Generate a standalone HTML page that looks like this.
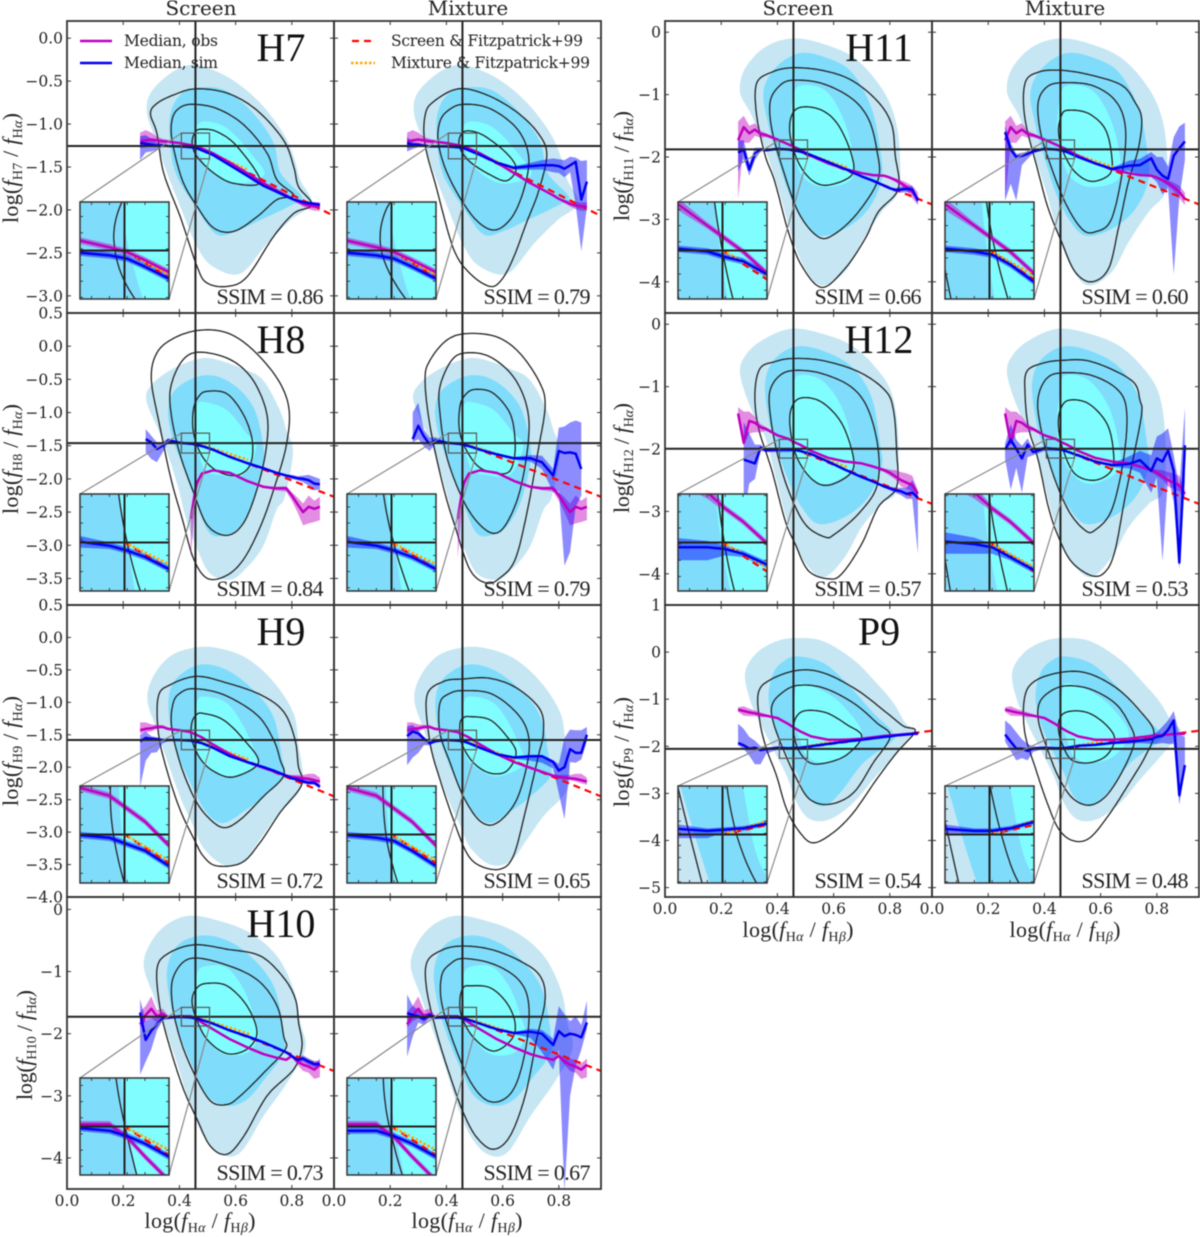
<!DOCTYPE html>
<html lang="en">
<head>
<meta charset="utf-8">
<title>Balmer decrement panels</title>
<style>
html,body{margin:0;padding:0;background:#fff;width:1200px;height:1237px;overflow:hidden;}
svg{display:block;filter:blur(0.45px);overflow:hidden;}
text{fill:#222;}
.tick{font-family:"DejaVu Serif","Liberation Serif",serif;font-size:15.5px;}
.ttl{font-family:"DejaVu Serif","Liberation Serif",serif;font-size:20px;}
.leg{font-family:"DejaVu Serif","Liberation Serif",serif;font-size:15.5px;}
.big{font-family:"Liberation Serif",serif;font-size:40px;fill:#111;}
.ssim{font-family:"Liberation Serif",serif;font-size:22px;}
.axl{font-family:"Liberation Serif",serif;font-size:22px;}
</style>
</head>
<body>
<svg id="chart" xmlns="http://www.w3.org/2000/svg" width="1200" height="1237" viewBox="0 0 1200 1237">
<g id="panels"></g>
<text class="ttl" x="201" y="15" text-anchor="middle">Screen</text>
<text class="ttl" x="468" y="15" text-anchor="middle">Mixture</text>
<text class="ttl" x="798" y="15" text-anchor="middle">Screen</text>
<text class="ttl" x="1065" y="15" text-anchor="middle">Mixture</text>
<g>
<line x1="80" x2="112" y1="41" y2="41" stroke="#bf00bf" stroke-width="2.5"/>
<text class="leg" x="124" y="46" textLength="94">Median, obs</text>
<line x1="80" x2="112" y1="63" y2="63" stroke="#0000f0" stroke-width="2.5"/>
<text class="leg" x="124" y="68" textLength="94">Median, sim</text>
</g>
<g>
<line x1="352" x2="372" y1="41" y2="41" stroke="#f00" stroke-width="2.2" stroke-dasharray="7 5"/>
<text class="leg" x="391" y="46" textLength="192">Screen &amp; Fitzpatrick+99</text>
<line x1="351" x2="375" y1="63" y2="63" stroke="#ffa500" stroke-width="2.6" stroke-dasharray="2.5 2"/>
<text class="leg" x="391" y="68" textLength="199">Mixture &amp; Fitzpatrick+99</text>
</g>
</svg>
<script>
// Shared x bins for the median curves
const medianX=[.26,.28,.30,.32,.34,.36,.40,.44,.46,.48,.52,.58,.64,.70,.74,.78,.80,.82,.84,.86,.88,.90];
const xTicks=[0,.2,.4,.6,.8];
const crossX=.457;

// H7
const h7Ticks=[0,-.5,-1,-1.5,-2,-2.5,-3];
const h7Cross=-1.255;
const h7Fill1=[.445,-.31,.534,-.39,.617,-.55,.70,-.80,.77,-1.11,.807,-1.38,.83,-1.65,.87,-1.92,.795,-2.12,.712,-2.39,.617,-2.74,.52,-2.66,.463,-2.43,.403,-1.96,.356,-1.57,.32,-1.22,.285,-.88,.297,-.64,.368,-.41];
const h7Fill2=[.486,-.57,.57,-.62,.664,-.88,.735,-1.22,.76,-1.57,.836,-1.85,.795,-1.95,.68,-2.13,.6,-2.25,.53,-2.28,.457,-1.96,.391,-1.61,.368,-1.26,.368,-.88,.41,-.64];
const h7Fill3=[.486,-.97,.57,-1.05,.664,-1.38,.70,-1.6,.593,-1.69,.498,-1.5,.463,-1.26,.457,-1.07];
const h7ScrC1=[.457,-.59,.57,-.64,.676,-.84,.771,-1.19,.807,-1.5,.824,-1.73,.872,-1.94,.807,-2.04,.735,-2.31,.64,-2.78,.57,-2.89,.498,-2.85,.463,-2.66,.403,-2.08,.344,-1.57,.32,-1.11,.297,-.88,.32,-.76,.38,-.66];
const h7ScrC2=[.445,-.77,.534,-.82,.629,-1.01,.712,-1.34,.747,-1.65,.807,-1.83,.747,-1.88,.676,-2.08,.593,-2.25,.522,-2.21,.463,-1.96,.41,-1.65,.374,-1.19,.374,-.95,.397,-.82];
const h7ScrC3=[.48,-1.06,.534,-1.09,.605,-1.26,.688,-1.67,.593,-1.69,.522,-1.57,.463,-1.38,.445,-1.22,.457,-1.09];
const h7MixC1=[.442,-.59,.543,-.66,.65,-.86,.727,-1.11,.757,-1.36,.727,-1.79,.686,-2.14,.638,-2.56,.597,-2.81,.555,-2.89,.484,-2.74,.425,-2.45,.365,-1.75,.324,-1.24,.324,-.9,.354,-.74];
const h7MixC2=[.46,-.77,.555,-.82,.65,-1.05,.692,-1.36,.68,-1.71,.638,-2.06,.579,-2.23,.52,-2.16,.46,-1.92,.40,-1.55,.371,-1.21,.377,-.97,.407,-.84];
const h7MixC3=[.472,-1.08,.531,-1.13,.614,-1.34,.648,-1.52,.614,-1.66,.555,-1.59,.484,-1.44,.448,-1.28,.448,-1.15];
const h7Obs=[-1.2,-1.19,-1.18,-1.19,-1.2,-1.205,-1.22,-1.245,-1.26,-1.285,-1.34,-1.45,-1.57,-1.69,-1.76,-1.83,-1.87,-1.9,-1.93,-1.95,-1.96,-1.96];
const h7ObsHi=[.1,.12,.08,.04,.03,.02,.01,.01,.01,.01,.01,.01,.01,.01,.01,.01,.01,.02,.03,.04,.05,.05];
const h7ObsLo=[.08,.08,.05,.04,.03,.02,.01,.01,.01,.01,.01,.01,.01,.01,.01,.01,.01,.02,.03,.04,.05,.05];
const h7ScrSim=[-1.22,-1.23,-1.24,-1.25,-1.25,-1.255,-1.26,-1.27,-1.28,-1.305,-1.36,-1.48,-1.6,-1.72,-1.78,-1.84,-1.87,-1.89,-1.91,-1.92,-1.93,-1.94];
const h7ScrHi=[.08,.1,.07,.03,.02,.01,.01,.01,.01,.01,.01,.01,.01,.01,.01,.01,.01,.01,.02,.02,.02,.02];
const h7ScrLo=[.2,.1,.08,.05,.02,.01,.01,.01,.01,.01,.01,.01,.01,.01,.01,.01,.01,.01,.02,.02,.02,.02];
const h7MixSim=[-1.22,-1.24,-1.24,-1.25,-1.26,-1.26,-1.26,-1.27,-1.28,-1.305,-1.36,-1.45,-1.51,-1.49,-1.48,-1.48,-1.49,-1.52,-1.48,-1.44,-1.88,-1.67];
const h7MixHi=[.07,.03,.02,.01,.01,.01,.01,.01,.01,.01,.01,.01,.02,.04,.06,.08,.08,.1,.1,.05,.45,.25];
const h7MixLo=[.1,.05,.03,.02,.01,.01,.01,.01,.01,.01,.01,.01,.02,.04,.05,.08,.08,.1,.08,.5,.6,.3];
const h7Red=[crossX,h7Cross,.95,-2.07];
const h7Orange=[crossX,h7Cross,.644,-1.535];

// H8
const h8Ticks=[.5,0,-.5,-1,-1.5,-2,-2.5,-3,-3.5];
const h8Cross=-1.46;
const h8Fill1=[.46,-.2,.52,-.19,.626,-.34,.697,-.51,.757,-.96,.78,-1.26,.804,-1.6,.775,-2.27,.745,-2.47,.697,-3.02,.632,-3.37,.579,-3.52,.508,-3.42,.46,-3.02,.425,-2.62,.395,-2.12,.365,-1.71,.33,-1.31,.282,-.81,.306,-.56,.377,-.34];
const h8Fill2=[.484,-.44,.579,-.54,.662,-.91,.697,-1.46,.697,-1.81,.662,-2.37,.614,-2.72,.567,-2.84,.508,-2.82,.46,-2.37,.413,-1.81,.377,-1.41,.36,-.96,.389,-.64];
const h8Fill3=[.484,-.84,.567,-.96,.638,-1.31,.674,-1.51,.626,-1.94,.543,-1.94,.49,-1.86,.46,-1.46,.448,-1.16,.46,-.91];
const h8ScrC1=[.47,.24,.57,.2,.66,-.05,.75,-.5,.79,-.95,.78,-1.5,.74,-2.1,.69,-2.7,.63,-3.2,.57,-3.45,.5,-3.5,.45,-3.2,.41,-2.6,.37,-2,.33,-1.2,.3,-.5,.32,-.1,.38,.12];
const h8ScrC2=[.47,-.09,.58,-.2,.66,-.5,.71,-1,.71,-1.5,.68,-2.1,.63,-2.65,.57,-2.85,.5,-2.7,.45,-2.2,.4,-1.6,.37,-1,.37,-.6,.41,-.22];
const h8ScrC3=[.5,-.68,.57,-.72,.63,-1.05,.66,-1.45,.65,-1.8,.6,-1.95,.53,-1.87,.48,-1.65,.45,-1.3,.45,-.95,.47,-.75];
const h8MixC1=[.472,.19,.579,.14,.662,-.11,.733,-.56,.751,-.91,.727,-1.56,.686,-2.52,.644,-3.22,.591,-3.49,.543,-3.57,.484,-3.37,.431,-2.72,.389,-2.12,.342,-1.21,.324,-.51,.342,-.21,.401,.09];
const h8MixC2=[.472,-.1,.555,-.16,.638,-.46,.686,-.91,.692,-1.41,.662,-2.17,.614,-2.67,.567,-2.82,.508,-2.64,.454,-2.27,.401,-1.66,.377,-1.01,.377,-.61,.419,-.21];
const h8MixC3=[.508,-.65,.567,-.71,.626,-1.01,.644,-1.41,.638,-1.76,.609,-1.92,.531,-1.86,.484,-1.66,.448,-1.31,.448,-.91,.472,-.71];
const h8Obs=[null,null,null,null,null,null,null,-2.6,-2.08,-1.92,-1.87,-1.91,-2.03,-2.12,-2.14,-2.14,-2.25,-2.38,-2.5,-2.42,-2.45,-2.42];
const h8ObsHi=[0,0,0,0,0,0,0,.1,.05,.02,.01,.01,.01,.01,.02,.03,.05,.1,.13,.17,.12,.15];
const h8ObsLo=[0,0,0,0,0,0,0,.6,.1,.02,.01,.01,.01,.01,.03,.05,.08,.12,.2,.25,.2,.2];
const h8ScrSim=[null,-1.4,-1.45,-1.55,-1.5,-1.42,-1.455,-1.47,-1.485,-1.505,-1.56,-1.67,-1.76,-1.84,-1.9,-1.95,-1.97,-1.99,-2,-2.02,-2.07,-2.08];
const h8ScrHi=[0,.15,.1,.1,.05,.03,.02,.01,.01,.01,.01,.01,.01,.01,.01,.02,.03,.03,.05,.08,.1,.08];
const h8ScrLo=[0,.2,.25,.2,.1,.03,.02,.01,.01,.01,.01,.01,.01,.01,.01,.02,.03,.03,.05,.08,.1,.08];
const h8MixSim=[null,-1.4,-1.2,-1.36,-1.48,-1.42,-1.455,-1.47,-1.485,-1.505,-1.56,-1.63,-1.69,-1.69,-1.75,-1.95,-1.58,-1.61,-1.6,-1.62,-1.85,null];
const h8MixHi=[0,.4,.35,.1,.1,.05,.02,.01,.01,.01,.01,.01,.02,.05,.1,.1,.35,.4,.45,.5,.7,0];
const h8MixLo=[0,.05,.2,.15,.1,.05,.02,.01,.01,.01,.01,.01,.02,.05,.1,.25,.6,1.7,1.5,.8,.4,0];
const h8Red=[crossX,h8Cross,.95,-2.27];
const h8Orange=[crossX,h8Cross,.644,-1.71];

// H9
const h9Ticks=[.5,0,-.5,-1,-1.5,-2,-2.5,-3,-3.5,-4];
const h9Cross=-1.58;
const h9Fill1=[.45,-.16,.533,-.16,.639,-.32,.734,-.68,.805,-1.16,.823,-1.63,.835,-2.29,.746,-2.75,.687,-3.11,.628,-3.45,.556,-3.5,.485,-3.24,.45,-2.91,.402,-2.45,.355,-1.88,.319,-1.42,.286,-.96,.307,-.6,.367,-.29];
const h9Fill2=[.473,-.42,.568,-.5,.663,-.81,.734,-1.22,.764,-1.83,.77,-2.14,.699,-2.45,.639,-2.65,.556,-2.86,.497,-2.7,.45,-2.34,.402,-1.88,.372,-1.47,.361,-.96,.39,-.63];
const h9Fill3=[.485,-.91,.568,-1.01,.628,-1.37,.675,-1.83,.675,-1.98,.58,-2.14,.497,-1.98,.461,-1.73,.45,-1.32,.461,-1.01];
const h9ScrC1=[.461,-.6,.568,-.7,.687,-.88,.77,-1.14,.811,-1.57,.823,-1.98,.835,-2.27,.758,-2.7,.687,-3.16,.622,-3.47,.533,-3.52,.485,-3.37,.45,-3.09,.402,-2.65,.355,-2.04,.325,-1.47,.325,-.91,.367,-.73];
const h9ScrC2=[.45,-.79,.556,-.88,.675,-1.19,.734,-1.57,.758,-1.88,.77,-2.14,.699,-2.45,.616,-2.81,.556,-2.93,.497,-2.75,.45,-2.45,.402,-1.93,.372,-1.37,.378,-1.01,.402,-.86];
const h9ScrC3=[.485,-1.17,.556,-1.27,.628,-1.57,.681,-1.93,.592,-2.15,.521,-2.06,.473,-1.86,.444,-1.57,.444,-1.32,.461,-1.19];
const h9MixC1=[.46,-.64,.555,-.63,.65,-.78,.733,-1.11,.745,-1.47,.727,-1.83,.68,-2.7,.638,-3.37,.591,-3.57,.52,-3.52,.472,-3.32,.425,-2.81,.377,-2.19,.342,-1.63,.33,-.91,.389,-.68];
const h9MixC2=[.46,-.82,.555,-.86,.638,-1.11,.686,-1.42,.692,-1.83,.65,-2.5,.579,-2.86,.52,-2.83,.46,-2.45,.413,-1.93,.377,-1.47,.377,-1.01,.413,-.86];
const h9MixC3=[.484,-1.22,.555,-1.27,.614,-1.52,.648,-1.78,.614,-2.06,.555,-2.09,.496,-1.93,.454,-1.63,.448,-1.34,.46,-1.24];
const h9Obs=[-1.43,-1.41,-1.4,-1.38,-1.38,-1.41,-1.43,-1.46,-1.5,-1.54,-1.65,-1.8,-1.92,-2.01,-2.07,-2.13,-2.15,-2.16,-2.17,-2.18,-2.2,-2.22];
const h9ObsHi=[.12,.1,.06,.03,.03,.02,.01,.01,.01,.01,.01,.01,.01,.01,.01,.02,.03,.04,.05,.08,.1,.06];
const h9ObsLo=[.05,.05,.05,.03,.02,.02,.01,.01,.01,.01,.01,.01,.01,.01,.01,.02,.03,.03,.03,.04,.05,.05];
const h9ScrSim=[-1.6,-1.55,-1.56,-1.57,-1.58,-1.58,-1.58,-1.59,-1.61,-1.63,-1.7,-1.83,-1.92,-2,-2.06,-2.13,-2.17,-2.19,-2.22,-2.24,-2.24,-2.3];
const h9ScrHi=[.1,.1,.04,.03,.02,.01,.01,.01,.01,.01,.01,.01,.01,.01,.01,.01,.02,.02,.03,.03,.03,.03];
const h9ScrLo=[.7,.35,.22,.2,.05,.02,.01,.01,.01,.01,.01,.01,.01,.01,.01,.01,.02,.02,.03,.03,.03,.03];
const h9MixSim=[-1.52,-1.45,-1.48,-1.56,-1.63,-1.6,-1.58,-1.59,-1.6,-1.63,-1.7,-1.8,-1.85,-1.83,-1.83,-1.92,-2.05,-2,-1.72,-1.78,-1.78,-1.5];
const h9MixHi=[.15,.1,.05,.03,.02,.01,.01,.01,.01,.01,.01,.01,.02,.02,.02,.03,.1,.45,.3,.35,.35,.12];
const h9MixLo=[.45,.4,.3,.1,.03,.02,.01,.01,.01,.01,.01,.01,.02,.07,.1,.1,.35,.8,.2,.15,.1,.1];
const h9Red=[crossX,h9Cross,.95,-2.45];
const h9Orange=[crossX,h9Cross,.645,-1.88];

// H10
const h10Ticks=[0,-1,-2,-3,-4];
const h10Cross=-1.727;
const h10Fill1=[.439,-.1,.546,-.19,.652,-.38,.747,-.75,.807,-1.29,.83,-1.82,.848,-2.25,.783,-2.79,.7,-3.32,.617,-3.91,.546,-3.94,.486,-3.65,.439,-3.16,.391,-2.47,.35,-1.93,.308,-1.39,.273,-.91,.297,-.54,.356,-.24];
const h10Fill2=[.463,-.43,.546,-.46,.64,-.7,.735,-1.23,.771,-1.98,.771,-2.31,.712,-2.68,.64,-3.06,.569,-3.16,.498,-3,.451,-2.57,.403,-2.04,.368,-1.5,.356,-.97,.391,-.59];
const h10Fill3=[.498,-.91,.569,-.94,.629,-1.29,.664,-1.72,.682,-2.04,.64,-2.31,.558,-2.33,.498,-2.09,.463,-1.77,.451,-1.39,.463,-1.02];
const h10ScrC1=[.451,-.57,.569,-.64,.688,-.75,.771,-1.1,.813,-1.45,.824,-1.82,.836,-2.2,.807,-2.57,.712,-3,.629,-3.65,.569,-3.94,.51,-3.81,.463,-3.38,.415,-2.9,.368,-2.25,.332,-1.61,.32,-.97,.356,-.72];
const h10ScrC2=[.439,-.79,.558,-.88,.676,-1.13,.747,-1.55,.771,-2.04,.777,-2.25,.7,-2.63,.617,-3,.569,-3.14,.51,-3.08,.451,-2.63,.403,-2.09,.374,-1.5,.38,-1.07];
const h10ScrC3=[.498,-1.19,.569,-1.23,.64,-1.55,.676,-1.98,.64,-2.25,.569,-2.32,.498,-2.09,.457,-1.72,.445,-1.45,.463,-1.26];
const h10MixC1=[.448,-.59,.555,-.64,.662,-.83,.733,-1.07,.751,-1.45,.721,-2.09,.68,-3,.626,-3.65,.567,-3.86,.508,-3.67,.46,-3.27,.413,-2.68,.365,-1.98,.33,-1.29,.33,-.86,.377,-.67];
const h10MixC2=[.46,-.79,.567,-.88,.656,-1.13,.692,-1.5,.686,-2.14,.65,-2.79,.603,-3.06,.543,-3.07,.484,-2.76,.425,-2.14,.383,-1.5,.383,-1.07,.413,-.88];
const h10MixC3=[.484,-1.23,.555,-1.26,.614,-1.5,.644,-1.82,.632,-2.09,.567,-2.28,.496,-2.06,.454,-1.72,.448,-1.45,.46,-1.26];
const h10Obs=[-1.85,-1.7,-1.6,-1.72,-1.68,-1.74,-1.72,-1.72,-1.76,-1.82,-1.93,-2.09,-2.22,-2.33,-2.38,-2.42,-2.36,-2.45,-2.5,-2.53,-2.58,-2.5];
const h10ObsHi=[.2,.15,.2,.1,.08,.03,.01,.01,.01,.01,.01,.01,.01,.01,.01,.02,.02,.05,.1,.1,.1,.1];
const h10ObsLo=[.05,.1,.15,.1,.06,.03,.01,.01,.01,.01,.01,.01,.01,.01,.01,.02,.02,.05,.1,.1,.15,.2];
const h10ScrSim=[-1.66,-2.1,-1.95,-1.85,-1.76,-1.74,-1.73,-1.74,-1.757,-1.78,-1.84,-1.95,-2.04,-2.14,-2.22,-2.3,-2.36,-2.42,-2.4,-2.45,-2.49,-2.49];
const h10ScrHi=[.22,.3,.2,.1,.03,.01,.01,.01,.01,.01,.01,.01,.01,.01,.01,.01,.02,.03,.05,.05,.05,.05];
const h10ScrLo=[1,.35,.3,.1,.03,.01,.01,.01,.01,.01,.01,.01,.01,.01,.01,.01,.02,.03,.05,.05,.05,.05];
const h10MixSim=[-1.67,-1.7,-1.72,-1.76,-1.7,-1.74,-1.74,-1.74,-1.757,-1.78,-1.84,-1.93,-1.99,-1.97,-2,-2.18,-1.96,-2.04,-2,-2.02,-2.06,-1.82];
const h10MixHi=[.3,.15,.1,.08,.03,.01,.01,.01,.01,.01,.01,.01,.02,.05,.06,.1,.4,.35,.2,.3,.2,.35];
const h10MixLo=[.7,.35,.1,.1,.05,.01,.01,.01,.01,.01,.01,.01,.02,.1,.3,.4,.3,2.5,1,.5,.2,.1];
const h10Red=[crossX,h10Cross,.95,-2.6];
const h10Orange=[crossX,h10Cross,.652,-2.01];

// H11
const h11Ticks=[0,-1,-2,-3,-4];
const h11Cross=-1.877;
const h11Fill1=[.451,-.1,.558,-.18,.676,-.42,.771,-.9,.819,-1.39,.836,-1.97,.83,-2.56,.771,-2.88,.7,-3.36,.64,-3.84,.558,-4.06,.498,-3.79,.451,-3.26,.403,-2.51,.356,-1.87,.308,-1.33,.267,-.96,.285,-.58,.356,-.24];
const h11Fill2=[.474,-.34,.569,-.4,.664,-.64,.735,-1.22,.765,-1.87,.771,-2.35,.724,-2.83,.64,-3.15,.546,-3.26,.486,-2.99,.439,-2.56,.397,-1.97,.368,-1.49,.35,-.96,.391,-.58];
const h11Fill3=[.486,-.85,.569,-.93,.629,-1.33,.664,-1.87,.664,-2.35,.569,-2.48,.498,-2.35,.463,-2.03,.445,-1.55,.457,-1.01];
const h11ScrC1=[.451,-.57,.558,-.61,.664,-.77,.759,-1.12,.807,-1.49,.819,-1.97,.83,-2.51,.759,-2.88,.712,-3.31,.64,-3.79,.558,-4.09,.486,-3.74,.439,-3.2,.391,-2.4,.356,-1.97,.326,-1.33,.326,-.82,.38,-.64];
const h11ScrC2=[.451,-.77,.558,-.82,.664,-1.06,.724,-1.39,.753,-1.87,.759,-2.35,.688,-2.88,.605,-3.23,.546,-3.28,.474,-2.88,.415,-2.13,.38,-1.55,.374,-1.12,.403,-.88];
const h11ScrC3=[.486,-1.2,.558,-1.25,.617,-1.49,.664,-1.97,.664,-2.29,.581,-2.45,.522,-2.37,.474,-2.08,.445,-1.65,.451,-1.33];
const h11MixC1=[.461,-.61,.568,-.69,.675,-.85,.722,-1.12,.746,-1.39,.734,-1.87,.699,-2.4,.663,-3.15,.628,-3.79,.568,-4,.509,-3.84,.461,-3.36,.414,-2.83,.378,-2.24,.331,-1.39,.331,-.82,.378,-.64];
const h11MixC2=[.461,-.81,.568,-.85,.651,-1.09,.687,-1.49,.681,-2.13,.639,-2.99,.58,-3.2,.533,-3.15,.473,-2.72,.414,-2.03,.384,-1.55,.378,-1.12,.408,-.88];
const h11MixC3=[.485,-1.25,.556,-1.3,.616,-1.55,.639,-1.97,.633,-2.27,.568,-2.39,.509,-2.24,.467,-1.92,.45,-1.6,.461,-1.33];
const h11Obs=[-1.73,-1.52,-1.62,-1.56,-1.63,-1.65,-1.72,-1.8,-1.84,-1.88,-1.98,-2.1,-2.19,-2.26,-2.29,-2.3,-2.33,-2.37,-2.42,-2.48,-2.56,-2.67];
const h11ObsHi=[.3,.18,.12,.1,.05,.03,.02,.01,.01,.01,.01,.01,.01,.01,.01,.01,.02,.03,.05,.07,.1,.1];
const h11ObsLo=[.95,.25,.15,.1,.06,.03,.02,.01,.01,.01,.01,.01,.01,.01,.01,.01,.02,.03,.05,.07,.1,.1];
const h11ScrSim=[-1.93,-1.88,-2.2,-1.95,-1.88,-1.89,-1.87,-1.88,-1.897,-1.91,-1.97,-2.08,-2.19,-2.31,-2.38,-2.46,-2.5,-2.53,-2.52,-2.51,-2.52,-2.7];
const h11ScrHi=[.2,.15,.1,.1,.03,.01,.01,.01,.01,.01,.01,.01,.01,.01,.01,.01,.02,.03,.05,.05,.05,.05];
const h11ScrLo=[.3,.15,.1,.1,.03,.01,.01,.01,.01,.01,.01,.01,.01,.01,.01,.01,.02,.03,.05,.05,.05,.05];
const h11MixSim=[-1.6,-1.88,-2,-1.98,-1.95,-1.91,-1.87,-1.88,-1.89,-1.92,-2,-2.1,-2.19,-2.14,-2.13,-2.02,-2.2,-2.3,-2.35,-1.98,-1.86,-1.75];
const h11MixHi=[.1,.1,.05,.05,.03,.02,.01,.01,.01,.01,.01,.01,.02,.08,.1,.1,.2,.3,.2,.3,.35,.3];
const h11MixLo=[1.1,.55,.7,.15,.08,.03,.01,.01,.01,.01,.01,.01,.02,.08,.15,.3,.2,.3,.15,1.9,.8,.3];
const h11Red=[crossX,h11Cross,.95,-2.76];
const h11Orange=[crossX,h11Cross,.65,-2.17];

// H12
const h12Ticks=[0,-1,-2,-3,-4];
const h12Cross=-1.995;
const h12Fill1=[.451,-.07,.558,-.15,.664,-.34,.747,-.68,.807,-1.11,.83,-1.81,.824,-2.66,.771,-2.88,.7,-3.25,.64,-3.73,.569,-4.05,.51,-3.89,.463,-3.52,.427,-3.04,.391,-2.4,.356,-1.81,.308,-1.38,.267,-.79,.291,-.47,.356,-.23];
const h12Fill2=[.463,-.36,.558,-.42,.664,-.68,.735,-1.17,.765,-1.91,.771,-2.29,.724,-2.77,.64,-3.09,.546,-3.2,.486,-2.93,.439,-2.5,.391,-1.91,.368,-1.49,.356,-.95,.386,-.58];
const h12Fill3=[.474,-.82,.558,-.9,.629,-1.33,.664,-1.91,.664,-2.34,.569,-2.56,.498,-2.4,.457,-2.02,.445,-1.54,.457,-1.06];
const h12ScrC1=[.451,-.55,.558,-.58,.688,-.76,.783,-1.06,.813,-1.38,.824,-2.02,.824,-2.61,.759,-2.93,.7,-3.52,.629,-4,.581,-4.08,.51,-3.95,.463,-3.52,.427,-3.14,.38,-2.34,.332,-1.65,.32,-1.11,.338,-.71,.391,-.6];
const h12ScrC2=[.463,-.74,.558,-.79,.664,-1.01,.724,-1.38,.759,-2.02,.753,-2.61,.688,-3.04,.605,-3.36,.569,-3.41,.498,-3.2,.439,-2.66,.397,-2.02,.374,-1.43,.374,-1.06,.409,-.82];
const h12ScrC3=[.486,-1.18,.558,-1.25,.629,-1.59,.67,-2.13,.658,-2.4,.581,-2.58,.522,-2.48,.469,-2.13,.445,-1.65,.451,-1.33];
const h12MixC1=[.461,-.58,.568,-.6,.71,-.9,.74,-1.22,.746,-1.43,.722,-2.02,.687,-2.77,.651,-3.63,.616,-3.97,.568,-4.03,.497,-3.81,.45,-3.41,.414,-2.93,.378,-2.18,.343,-1.65,.331,-1.11,.337,-.76,.39,-.63];
const h12MixC2=[.461,-.78,.568,-.82,.663,-1.06,.693,-1.43,.681,-2.18,.639,-2.98,.58,-3.3,.544,-3.3,.485,-2.98,.426,-2.34,.384,-1.59,.378,-1.17,.408,-.87];
const h12MixC3=[.485,-1.22,.556,-1.27,.622,-1.59,.645,-2.02,.639,-2.34,.58,-2.5,.509,-2.4,.467,-2.02,.45,-1.65,.456,-1.38];
const h12Obs=[-1.43,-1.9,-1.55,-1.58,-1.65,-1.68,-1.78,-1.84,-1.89,-1.93,-2.03,-2.14,-2.2,-2.23,-2.28,-2.34,-2.38,-2.44,-2.5,-2.54,-2.58,-2.72];
const h12ObsHi=[.1,.5,.15,.1,.05,.03,.02,.02,.01,.01,.01,.01,.01,.01,.02,.03,.05,.1,.13,.15,.15,.05];
const h12ObsLo=[.05,.05,.2,.15,.08,.03,.02,.02,.01,.01,.01,.01,.01,.01,.02,.03,.05,.05,.1,.1,.1,.1];
const h12ScrSim=[null,-2.17,-2.2,-2.23,-1.98,-2.02,-2.01,-2.01,-2.015,-2.03,-2.08,-2.2,-2.33,-2.45,-2.52,-2.6,-2.63,-2.66,-2.68,-2.72,-2.7,-2.78];
const h12ScrHi=[0,.6,.45,.3,.05,.03,.03,.02,.01,.01,.01,.01,.01,.01,.01,.02,.03,.04,.06,.1,.2,.1];
const h12ScrLo=[0,.9,.35,.25,.05,.03,.04,.04,.02,.01,.01,.01,.01,.01,.01,.02,.03,.04,.06,.08,.1,.9];
const h12MixSim=[-2.01,-1.85,-2,-2.15,-1.93,-2.05,-1.99,-2,-2.01,-2.04,-2.1,-2.2,-2.26,-2.24,-2.18,-2.35,-2.15,-2.2,-2.02,-2.35,-3.82,-1.94];
const h12MixHi=[.1,.25,.15,.2,.1,.05,.03,.02,.01,.01,.01,.01,.03,.12,.15,.25,.35,.45,.35,.25,1.2,.6];
const h12MixLo=[.15,.8,.3,.55,.2,.05,.04,.03,.02,.01,.01,.01,.03,.07,.2,.35,.3,1.6,.4,.5,.1,.6];
const h12Red=[crossX,h12Cross,.95,-2.88];
const h12Orange=[crossX,h12Cross,.65,-2.29];

// P9
const p9Ticks=[1,0,-1,-2,-3,-4,-5];
const p9Cross=-2.055;
const p9Fill1=[.469,.3,.563,.23,.67,-.16,.753,-.66,.813,-1.08,.854,-1.5,.884,-1.68,.824,-2.14,.741,-2.7,.67,-3.2,.587,-3.55,.516,-3.55,.469,-3.2,.433,-2.63,.386,-2.07,.338,-1.5,.302,-1.01,.285,-.44,.326,-.02,.397,.23];
const p9Fill2=[.469,-.09,.563,-.23,.647,-.66,.741,-1.29,.813,-1.72,.801,-1.93,.706,-2.35,.623,-2.99,.563,-3.27,.504,-3.06,.469,-2.56,.421,-2,.386,-1.5,.368,-.94,.386,-.44,.421,-.2];
const p9Fill3=[.48,-.66,.563,-.83,.635,-1.15,.7,-1.72,.647,-2.21,.563,-2.35,.504,-2.21,.48,-1.86,.457,-1.36,.463,-.87];
const p9ScrC1=[.469,-.39,.563,-.44,.682,-.8,.789,-1.29,.848,-1.57,.89,-1.68,.824,-2.14,.753,-2.7,.67,-3.41,.599,-3.83,.528,-4.05,.48,-3.83,.433,-3.34,.397,-2.63,.362,-2.07,.338,-1.5,.332,-.87,.374,-.59];
const p9ScrC2=[.469,-.71,.563,-.76,.67,-1.08,.753,-1.5,.801,-1.79,.741,-2.35,.67,-2.99,.587,-3.23,.516,-3.13,.469,-2.7,.421,-2.07,.386,-1.5,.38,-1.15,.409,-.9];
const p9ScrC3=[.504,-1.24,.575,-1.29,.647,-1.54,.7,-1.79,.647,-2.18,.575,-2.35,.516,-2.35,.474,-2.07,.457,-1.65,.469,-1.36];
const p9MixC1=[.47,-.42,.56,-.46,.66,-.78,.74,-1.25,.79,-1.7,.76,-2.2,.7,-2.8,.63,-3.45,.56,-3.95,.5,-4,.45,-3.75,.41,-3.2,.37,-2.5,.33,-1.7,.33,-.95,.37,-.6];
const p9MixC2=[.47,-.72,.56,-.78,.65,-1.08,.7,-1.5,.72,-1.9,.68,-2.5,.62,-3.05,.56,-3.25,.5,-3.1,.45,-2.65,.41,-2.05,.38,-1.5,.38,-1.12,.41,-.88];
const p9MixC3=[.5,-1.25,.56,-1.3,.62,-1.55,.65,-1.85,.62,-2.2,.56,-2.35,.5,-2.3,.47,-2.05,.45,-1.65,.46,-1.35];
const p9Obs=[-1.22,-1.25,-1.28,-1.3,-1.33,-1.35,-1.4,-1.53,-1.61,-1.68,-1.79,-1.86,-1.86,-1.84,-1.81,-1.78,-1.77,-1.76,-1.75,-1.74,-1.73,-1.74];
const p9ObsHi=[.05,.1,.08,.06,.05,.03,.01,.01,.01,.01,.01,.01,.01,.01,.01,.01,.02,.02,.02,.02,.02,.02];
const p9ObsLo=[.05,.1,.08,.06,.05,.03,.01,.01,.01,.01,.01,.01,.01,.01,.01,.01,.02,.02,.02,.02,.02,.02];
const p9ScrSim=[-1.93,-1.98,-2.05,-2.03,-2.08,-2.06,-2.03,-2.04,-2.035,-2.03,-2,-1.95,-1.9,-1.86,-1.83,-1.8,-1.79,-1.77,-1.76,-1.75,-1.74,-1.72];
const p9ScrHi=[.41,.35,.25,.15,.08,.04,.02,.01,.01,.01,.01,.01,.01,.01,.01,.01,.01,.01,.01,.01,.01,.01];
const p9ScrLo=[.05,.08,.15,.35,.3,.1,.04,.03,.01,.01,.01,.01,.01,.01,.01,.01,.01,.01,.01,.01,.01,.01];
const p9MixSim=[-1.75,-1.9,-2.05,-2.05,-2.1,-2.05,-2.03,-2.04,-2.04,-2.03,-1.99,-1.97,-1.93,-1.9,-1.88,-1.85,-1.8,-1.78,-1.65,-1.45,-3.04,-2.4];
const p9MixHi=[.3,.35,.35,.2,.15,.05,.02,.01,.01,.01,.01,.01,.02,.05,.07,.1,.1,.2,.2,.2,1.3,.6];
const p9MixLo=[.15,.2,.25,.2,.2,.07,.02,.01,.01,.01,.01,.01,.02,.05,.05,.1,.15,.15,.3,.5,.2,.1];
const p9Red=[crossX,p9Cross,.95,-1.67];
const p9Orange=[crossX,p9Cross,.647,-1.84];

const NS='http://www.w3.org/2000/svg';
function mk(tag,attrs,parent){
  const e=document.createElementNS(NS,tag);
  for(const k in attrs)e.setAttribute(k,attrs[k]);
  if(parent)parent.appendChild(e);
  return e;
}
function pairs(flat){const o=[];for(let i=0;i<flat.length;i+=2)o.push([flat[i],flat[i+1]]);return o;}
// Sample the closed spline through a shape's data points into pixel coordinates
function sampleClosed(flat,sx,sy){
  const p=pairs(flat).map(a=>[sx(a[0]),sy(a[1])]),n=p.length,out=[];
  for(let i=0;i<n;i++){
    const a=p[(i-1+n)%n],b=p[i],c=p[(i+1)%n],e=p[(i+2)%n];
    const c1=[b[0]+(c[0]-a[0])/6,b[1]+(c[1]-a[1])/6],c2=[c[0]-(e[0]-b[0])/6,c[1]-(e[1]-b[1])/6];
    for(let k=0;k<14;k++){
      const t=k/14,u=1-t;
      out.push([u*u*u*b[0]+3*u*u*t*c1[0]+3*u*t*t*c2[0]+t*t*t*c[0],u*u*u*b[1]+3*u*u*t*c1[1]+3*u*t*t*c2[1]+t*t*t*c[1]]);
    }
  }
  return out;
}
// Polygon clipped to a rectangle, so geometry never extends past its axes
function clipPoly(pts,box){
  const x0=box.x-2,x1=box.x+box.w+2,y0=box.y-2,y1=box.y+box.h+2;
  const edges=[[0,x0,1],[0,x1,-1],[1,y0,1],[1,y1,-1]];
  let res=pts;
  edges.forEach(ed=>{
    const ax=ed[0],lim=ed[1],sg=ed[2],o=[];
    for(let i=0;i<res.length;i++){
      const a=res[i],b=res[(i+1)%res.length];
      const ina=(a[ax]-lim)*sg>=0,inb=(b[ax]-lim)*sg>=0;
      if(ina)o.push(a);
      if(ina!==inb){
        const t=(lim-a[ax])/(b[ax]-a[ax]);
        o.push([a[0]+t*(b[0]-a[0]),a[1]+t*(b[1]-a[1])]);
      }
    }
    res=o;
  });
  return res;
}
// Open polyline clipped to a rectangle: returns visible runs
function clipRuns(pts,box){
  const x0=box.x-2,x1=box.x+box.w+2,y0=box.y-2,y1=box.y+box.h+2;
  const runs=[];let cur=null;
  for(let i=0;i<pts.length-1;i++){
    const a=pts[i],b=pts[i+1],dx=b[0]-a[0],dy=b[1]-a[1];
    let t0=0,t1=1,ok=true;
    [[-dx,a[0]-x0],[dx,x1-a[0]],[-dy,a[1]-y0],[dy,y1-a[1]]].forEach(c=>{
      const pp=c[0],q=c[1];
      if(pp===0){if(q<0)ok=false;}
      else{const r=q/pp;if(pp<0){if(r>t1)ok=false;else if(r>t0)t0=r;}else{if(r<t0)ok=false;else if(r<t1)t1=r;}}
    });
    if(!ok){cur=null;continue;}
    const s=[a[0]+t0*dx,a[1]+t0*dy],e=[a[0]+t1*dx,a[1]+t1*dy];
    if(!cur||t0>0){cur=[s];runs.push(cur);}
    cur.push(e);
    if(t1<1)cur=null;
  }
  return runs;
}
function polyAttr(pts){return pts.map(p=>p[0].toFixed(1)+','+p[1].toFixed(1)).join(' ');}
function runsPath(runs){
  return runs.map(r=>'M'+r.map(p=>p[0].toFixed(1)+' '+p[1].toFixed(1)).join('L')).join('');
}
function linePixels(vals,sx,sy){
  const o=[];
  vals.forEach((v,i)=>{if(v!==null)o.push([sx(medianX[i]),sy(v)]);});
  return o;
}
function bandPixels(vals,hi,lo,sx,sy){
  const up=[],dn=[];
  vals.forEach((v,i)=>{
    if(v===null)return;
    up.push([sx(medianX[i]),sy(v+hi[i])]);
    dn.unshift([sx(medianX[i]),sy(v-lo[i])]);
  });
  return up.concat(dn);
}
function segPixels(seg,sx,sy){return [[sx(seg[0]),sy(seg[1])],[sx(seg[2]),sy(seg[3])]];}
let clipId=0;
function drawContent(parent,P,sx,sy,box){
  const id='clip'+(clipId++);
  const cp=mk('clipPath',{id:id},parent);
  mk('rect',{x:box.x,y:box.y,width:box.w,height:box.h},cp);
  const g=mk('g',{'clip-path':'url(#'+id+')'},parent);
  
  
  const f1=mk('polygon',{points:polyAttr(clipPoly(sampleClosed(P.fills[0],sx,sy),box)),fill:'#c6e6f3'},g);
  
  
  const f2=mk('polygon',{points:polyAttr(clipPoly(sampleClosed(P.fills[1],sx,sy),box)),fill:'#80dcfb'},g);
  
  
  const f3=mk('polygon',{points:polyAttr(clipPoly(sampleClosed(P.fills[2],sx,sy),box)),fill:'#80feff'},g);
  
  
  P.contours.forEach(c=>{
    const pts=sampleClosed(c,sx,sy);
    pts.push(pts[0]);
    const k=mk('path',{d:runsPath(clipRuns(pts,box)),fill:'none',stroke:'#222','stroke-width':1.3,'stroke-linejoin':'round'},g);
    
    
  });
  const b1=mk('polygon',{points:polyAttr(clipPoly(bandPixels(P.obs,P.obsHi,P.obsLo,sx,sy),box)),fill:'#bf00bf','fill-opacity':.45},g);
  
  
  const b2=mk('polygon',{points:polyAttr(clipPoly(bandPixels(P.sim,P.simHi,P.simLo,sx,sy),box)),fill:'#0000ff','fill-opacity':.45},g);
  
  
  const r=mk('path',{d:runsPath(clipRuns(segPixels(P.red,sx,sy),box)),fill:'none',stroke:'#f00','stroke-width':2.2,'stroke-dasharray':'7 5'},g);
  
  
  const o=mk('path',{d:runsPath(clipRuns(segPixels(P.orange,sx,sy),box)),fill:'none',stroke:'#ffa500','stroke-width':2.6,'stroke-dasharray':'2.5 2'},g);
  
  
  const l1=mk('path',{d:runsPath(clipRuns(linePixels(P.obs,sx,sy),box)),fill:'none',stroke:'#bf00bf','stroke-width':2.5,'stroke-linejoin':'round'},g);
  
  
  const l2=mk('path',{d:runsPath(clipRuns(linePixels(P.sim,sx,sy),box)),fill:'none',stroke:'#0000f0','stroke-width':2.5,'stroke-linejoin':'round'},g);
  
  
  const h=mk('line',{x1:box.x,x2:box.x+box.w,y1:sy(P.cross),y2:sy(P.cross),stroke:'#222','stroke-width':2},g);
  
  
  const v=mk('line',{x1:sx(crossX),x2:sx(crossX),y1:box.y,y2:box.y+box.h,stroke:'#222','stroke-width':2},g);
  
  
}
function fmt(v,dec){const s=Math.abs(v).toFixed(dec);return (v<0?'\u2212':'')+s;}
function labelMarkup(sub){
  return 'log(<tspan font-style="italic">f</tspan><tspan font-size="14" dy="4">'+sub+'</tspan><tspan dy="-4"> / </tspan><tspan font-style="italic">f</tspan><tspan font-size="14" dy="4">H<tspan font-style="italic">\u03B1</tspan></tspan><tspan dy="-4">)</tspan>';
}
function xLabelMarkup(){
  return 'log(<tspan font-style="italic">f</tspan><tspan font-size="14" dy="4">H<tspan font-style="italic">\u03B1</tspan></tspan><tspan dy="-4"> / </tspan><tspan font-style="italic">f</tspan><tspan font-size="14" dy="4">H<tspan font-style="italic">\u03B2</tspan></tspan><tspan dy="-4">)</tspan>';
}

const XMAX=.95,PW=267,PH=292;
const panels=[
 {name:'H7',sub:'H7',col:'screen',x:67,top:21,ymax:.2,ymin:-3.2,ticks:h7Ticks,dec:1,ylx:12,yly:168,ssim:'0.86',cross:h7Cross,fills:[h7Fill1,h7Fill2,h7Fill3],contours:[h7ScrC1,h7ScrC2,h7ScrC3],obs:h7Obs,obsHi:h7ObsHi,obsLo:h7ObsLo,sim:h7ScrSim,simHi:h7ScrHi,simLo:h7ScrLo,red:h7Red,orange:h7Orange,win:.15},
 {name:'H7',sub:'',col:'mixture',x:334,top:21,ymax:.2,ymin:-3.2,ticks:h7Ticks,dec:1,ssim:'0.79',cross:h7Cross,fills:[h7Fill1,h7Fill2,h7Fill3],contours:[h7MixC1,h7MixC2,h7MixC3],obs:h7Obs,obsHi:h7ObsHi,obsLo:h7ObsLo,sim:h7MixSim,simHi:h7MixHi,simLo:h7MixLo,red:h7Red,orange:h7Orange,win:.15},
 {name:'H8',sub:'H8',col:'screen',x:67,top:313,ymax:.5,ymin:-3.9,ticks:h8Ticks,dec:1,ylx:12,yly:459,ssim:'0.84',cross:h8Cross,fills:[h8Fill1,h8Fill2,h8Fill3],contours:[h8ScrC1,h8ScrC2,h8ScrC3],obs:h8Obs,obsHi:h8ObsHi,obsLo:h8ObsLo,sim:h8ScrSim,simHi:h8ScrHi,simLo:h8ScrLo,red:h8Red,orange:h8Orange,win:.15},
 {name:'H8',sub:'',col:'mixture',x:334,top:313,ymax:.5,ymin:-3.9,ticks:h8Ticks,dec:1,ssim:'0.79',cross:h8Cross,fills:[h8Fill1,h8Fill2,h8Fill3],contours:[h8MixC1,h8MixC2,h8MixC3],obs:h8Obs,obsHi:h8ObsHi,obsLo:h8ObsLo,sim:h8MixSim,simHi:h8MixHi,simLo:h8MixLo,red:h8Red,orange:h8Orange,win:.15},
 {name:'H9',sub:'H9',col:'screen',x:67,top:605,ymax:.5,ymin:-4,ticks:h9Ticks,dec:1,ylx:12,yly:751,ssim:'0.72',cross:h9Cross,fills:[h9Fill1,h9Fill2,h9Fill3],contours:[h9ScrC1,h9ScrC2,h9ScrC3],obs:h9Obs,obsHi:h9ObsHi,obsLo:h9ObsLo,sim:h9ScrSim,simHi:h9ScrHi,simLo:h9ScrLo,red:h9Red,orange:h9Orange,win:.15},
 {name:'H9',sub:'',col:'mixture',x:334,top:605,ymax:.5,ymin:-4,ticks:h9Ticks,dec:1,ssim:'0.65',cross:h9Cross,fills:[h9Fill1,h9Fill2,h9Fill3],contours:[h9MixC1,h9MixC2,h9MixC3],obs:h9Obs,obsHi:h9ObsHi,obsLo:h9ObsLo,sim:h9MixSim,simHi:h9MixHi,simLo:h9MixLo,red:h9Red,orange:h9Orange,win:.15},
 {name:'H10',sub:'H10',col:'screen',x:67,top:897,ymax:.2,ymin:-4.5,ticks:h10Ticks,dec:0,ylx:26,yly:1045,ssim:'0.73',cross:h10Cross,fills:[h10Fill1,h10Fill2,h10Fill3],contours:[h10ScrC1,h10ScrC2,h10ScrC3],obs:h10Obs,obsHi:h10ObsHi,obsLo:h10ObsLo,sim:h10ScrSim,simHi:h10ScrHi,simLo:h10ScrLo,red:h10Red,orange:h10Orange,win:.15,xlab:1228},
 {name:'H10',sub:'',col:'mixture',x:334,top:897,ymax:.2,ymin:-4.5,ticks:h10Ticks,dec:0,ssim:'0.67',cross:h10Cross,fills:[h10Fill1,h10Fill2,h10Fill3],contours:[h10MixC1,h10MixC2,h10MixC3],obs:h10Obs,obsHi:h10ObsHi,obsLo:h10ObsLo,sim:h10MixSim,simHi:h10MixHi,simLo:h10MixLo,red:h10Red,orange:h10Orange,win:.15,xlab:1228},
 {name:'H11',sub:'H11',col:'screen',x:665,top:21,ymax:.18,ymin:-4.5,ticks:h11Ticks,dec:0,ylx:623,yly:166,ssim:'0.66',cross:h11Cross,fills:[h11Fill1,h11Fill2,h11Fill3],contours:[h11ScrC1,h11ScrC2,h11ScrC3],obs:h11Obs,obsHi:h11ObsHi,obsLo:h11ObsLo,sim:h11ScrSim,simHi:h11ScrHi,simLo:h11ScrLo,red:h11Red,orange:h11Orange,win:.15},
 {name:'H11',sub:'',col:'mixture',x:932,top:21,ymax:.18,ymin:-4.5,ticks:h11Ticks,dec:0,ssim:'0.60',cross:h11Cross,fills:[h11Fill1,h11Fill2,h11Fill3],contours:[h11MixC1,h11MixC2,h11MixC3],obs:h11Obs,obsHi:h11ObsHi,obsLo:h11ObsLo,sim:h11MixSim,simHi:h11MixHi,simLo:h11MixLo,red:h11Red,orange:h11Orange,win:.15},
 {name:'H12',sub:'H12',col:'screen',x:665,top:313,ymax:.18,ymin:-4.5,ticks:h12Ticks,dec:0,ylx:623,yly:458,ssim:'0.57',cross:h12Cross,fills:[h12Fill1,h12Fill2,h12Fill3],contours:[h12ScrC1,h12ScrC2,h12ScrC3],obs:h12Obs,obsHi:h12ObsHi,obsLo:h12ObsLo,sim:h12ScrSim,simHi:h12ScrHi,simLo:h12ScrLo,red:h12Red,orange:h12Orange,win:.15},
 {name:'H12',sub:'',col:'mixture',x:932,top:313,ymax:.18,ymin:-4.5,ticks:h12Ticks,dec:0,ssim:'0.53',cross:h12Cross,fills:[h12Fill1,h12Fill2,h12Fill3],contours:[h12MixC1,h12MixC2,h12MixC3],obs:h12Obs,obsHi:h12ObsHi,obsLo:h12ObsLo,sim:h12MixSim,simHi:h12MixHi,simLo:h12MixLo,red:h12Red,orange:h12Orange,win:.15},
 {name:'P9',sub:'P9',col:'screen',x:665,top:605,ymax:1,ymin:-5.2,ticks:p9Ticks,dec:0,ylx:623,yly:752,ssim:'0.54',cross:p9Cross,fills:[p9Fill1,p9Fill2,p9Fill3],contours:[p9ScrC1,p9ScrC2,p9ScrC3],obs:p9Obs,obsHi:p9ObsHi,obsLo:p9ObsLo,sim:p9ScrSim,simHi:p9ScrHi,simLo:p9ScrLo,red:p9Red,orange:p9Orange,win:.2,xlab:937},
 {name:'P9',sub:'',col:'mixture',x:932,top:605,ymax:1,ymin:-5.2,ticks:p9Ticks,dec:0,ssim:'0.48',cross:p9Cross,fills:[p9Fill1,p9Fill2,p9Fill3],contours:[p9MixC1,p9MixC2,p9MixC3],obs:p9Obs,obsHi:p9ObsHi,obsLo:p9ObsLo,sim:p9MixSim,simHi:p9MixHi,simLo:p9MixLo,red:p9Red,orange:p9Orange,win:.2,xlab:937}
];

const root=document.getElementById('panels');
panels.forEach(P=>{
  const g=mk('g',{},root);
  
  
  const sx=v=>P.x+v/XMAX*PW;
  const sy=v=>P.top+(P.ymax-v)/(P.ymax-P.ymin)*PH;
  drawContent(g,P,sx,sy,{x:P.x,y:P.top,w:PW,h:PH});

  // main axis ticks
  xTicks.forEach(t=>{
    const a=mk('line',{x1:sx(t),x2:sx(t),y1:P.top,y2:P.top+4,stroke:'#333','stroke-width':1},g);
    
    
    const b=mk('line',{x1:sx(t),x2:sx(t),y1:P.top+PH,y2:P.top+PH-4,stroke:'#333','stroke-width':1},g);
    
    
    if(P.xlab){
      const lab=mk('text',{x:sx(t),y:P.top+PH+17,'text-anchor':'middle','class':'tick'},root);
      
      
      lab.textContent=t.toFixed(1);
    }
  });
  P.ticks.forEach(t=>{
    const a=mk('line',{x1:P.x,x2:P.x+4,y1:sy(t),y2:sy(t),stroke:'#333','stroke-width':1},g);
    
    
    const b=mk('line',{x1:P.x+PW,x2:P.x+PW-4,y1:sy(t),y2:sy(t),stroke:'#333','stroke-width':1},g);
    
    
    if(P.sub){
      const lab=mk('text',{x:P.x-4,y:sy(t)+5.5,'text-anchor':'end','class':'tick'},root);
      
      
      lab.textContent=fmt(t,P.dec);
    }
  });
  const frame=mk('rect',{x:P.x,y:P.top,width:PW,height:PH,fill:'none',stroke:'#333','stroke-width':1.8},g);
  
  

  // zoom window and connectors
  const wx0=crossX-.05,wx1=crossX+.05,wy0=P.cross+P.win,wy1=P.cross-P.win;
  const ix=P.x+13,iy=P.top+181,iw=89,ih=97;
  const c1=mk('line',{x1:sx(wx0),y1:sy(wy0),x2:ix,y2:iy,stroke:'#888','stroke-width':1.2},g);
  
  
  const c2=mk('line',{x1:sx(wx1),y1:sy(wy1),x2:ix+iw,y2:iy+ih,stroke:'#888','stroke-width':1.2},g);
  
  
  const win=mk('rect',{x:sx(wx0),y:sy(wy0),width:sx(wx1)-sx(wx0),height:sy(wy1)-sy(wy0),fill:'none',stroke:'#555','stroke-width':1.2},g);
  
  

  // inset
  const ig=mk('g',{},g);
  
  
  const bg=mk('rect',{x:ix,y:iy,width:iw,height:ih,fill:'#fff'},ig);
  
  
  const isx=v=>ix+(v-wx0)/(wx1-wx0)*iw;
  const isy=v=>iy+(wy0-v)/(wy0-wy1)*ih;
  drawContent(ig,P,isx,isy,{x:ix,y:iy,w:iw,h:ih});
  for(let k=1;k<5;k++){
    const tx=ix+iw*(k*.2-.07);
    const a=mk('line',{x1:tx,x2:tx,y1:iy,y2:iy+3,stroke:'#333','stroke-width':.9},ig);
    
    
    const b=mk('line',{x1:tx,x2:tx,y1:iy+ih,y2:iy+ih-3,stroke:'#333','stroke-width':.9},ig);
    
    
  }
  const stepY=.05;
  for(let v=Math.ceil(wy1/stepY)*stepY;v<wy0;v+=stepY){
    const a=mk('line',{x1:ix,x2:ix+3,y1:isy(v),y2:isy(v),stroke:'#333','stroke-width':.9},ig);
    
    
    const b=mk('line',{x1:ix+iw,x2:ix+iw-3,y1:isy(v),y2:isy(v),stroke:'#333','stroke-width':.9},ig);
    
    
  }
  const iframe=mk('rect',{x:ix,y:iy,width:iw,height:ih,fill:'none',stroke:'#333','stroke-width':1.5},ig);
  
  

  // annotations
  const ss=mk('text',{x:P.x+203,y:P.top+283,'text-anchor':'middle',textLength:107,'class':'ssim'},root);
  
  
  ss.textContent='SSIM = '+P.ssim;
  if(P.sub){
    const big=mk('text',{x:P.x+214,y:P.top+40,'text-anchor':'middle','class':'big'},root);
    
    
    big.textContent=P.name;
    const yl=mk('text',{'text-anchor':'middle','class':'axl',transform:'translate('+(P.ylx+6)+','+P.yly+') rotate(-90)',textLength:110},root);
    
    
    yl.innerHTML=labelMarkup(P.sub);
  }
  if(P.xlab){
    const xl=mk('text',{x:P.x+133,y:P.xlab,'text-anchor':'middle','class':'axl',textLength:111},root);
    
    
    xl.innerHTML=xLabelMarkup();
  }
});
</script>
</body>
</html>
